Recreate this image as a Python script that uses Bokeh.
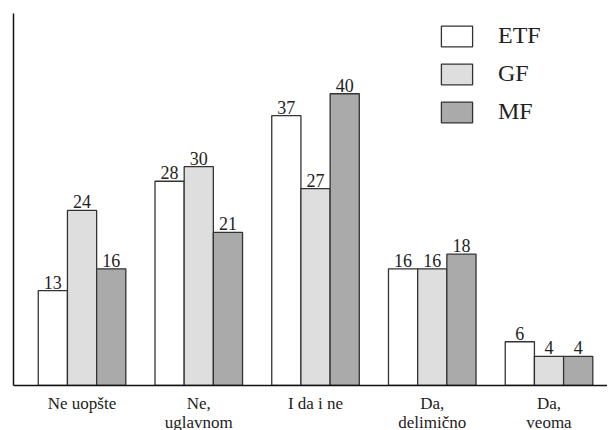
from bokeh.plotting import figure
from bokeh.models import ColumnDataSource, Range1d, FixedTicker, Legend, LegendItem
from bokeh.transform import dodge
from bokeh.core.properties import value
from bokeh.embed import file_html
from bokeh.resources import INLINE

categories = ["Ne uopšte", "Ne,\nuglavnom", "I da i ne", "Da,\ndelimično", "Da,\nveoma"]
series = ["ETF", "GF", "MF"]
etf = [13, 28, 37, 16, 6]
gf = [24, 30, 27, 16, 4]
mf = [16, 21, 40, 18, 4]

fills = ["#ffffff", "#dedede", "#aaaaaa"]
FONT = "Liberation Serif"

x = list(range(len(categories)))
src = ColumnDataSource(dict(x=x, ETF=etf, GF=gf, MF=mf,
                            ETF_t=[str(v) for v in etf],
                            GF_t=[str(v) for v in gf],
                            MF_t=[str(v) for v in mf]))

p = figure(frame_width=594, frame_height=372, output_backend="svg", toolbar_location=None,
           x_range=Range1d(-0.587, 4.501), y_range=Range1d(0, 51),
           min_border_left=13, min_border_top=13, min_border_right=0, min_border_bottom=0)
p.outline_line_color = None
p.grid.visible = False
p.background_fill_color = "white"

offsets = [-0.25, 0.0, 0.25]
bars = []
for s, off, fc in zip(series, offsets, fills):
    r = p.vbar(x=dodge("x", off, range=p.x_range), top=s, width=0.25, bottom=0,
               source=src, fill_color=fc, line_color="#333333", line_width=1.3)
    bars.append(r)
    p.text(x=dodge("x", off, range=p.x_range), y=s, text=s + "_t", source=src,
           text_align="center", text_baseline="bottom", y_offset=-2,
           text_font=value(FONT), text_font_size="18px", text_color="#222222")

items = [LegendItem(label=s, renderers=[r]) for s, r in zip(series, bars)]
legend = Legend(items=items, location=(424, 260), glyph_width=39, glyph_height=26,
                spacing=11, padding=0, margin=0, label_standoff=22,
                label_text_font=FONT, label_text_font_size="24px", label_text_color="#222222",
                border_line_color=None, background_fill_alpha=0, label_height=26)
p.add_layout(legend, "center")

p.xaxis.ticker = FixedTicker(ticks=x)
p.xaxis.major_label_overrides = {i: c for i, c in enumerate(categories)}
p.xaxis.major_tick_line_color = None
p.xaxis.minor_tick_line_color = None
p.xaxis.major_tick_out = 0
p.xaxis.major_tick_in = 0
p.xaxis.axis_line_color = "#111111"
p.xaxis.axis_line_width = 1.5
p.xaxis.major_label_standoff = 8
p.xaxis.major_label_text_font = FONT
p.xaxis.major_label_text_font_size = "17px"
p.xaxis.major_label_text_line_height = 1.0
p.xaxis.major_label_text_color = "#222222"

p.yaxis.ticker = FixedTicker(ticks=[])
p.yaxis.major_tick_out = 0
p.yaxis.major_tick_in = 0
p.yaxis.major_label_standoff = 0
p.yaxis.axis_line_color = "#111111"
p.yaxis.axis_line_width = 1.5

open("out.html", "w").write(file_html(p, INLINE))
